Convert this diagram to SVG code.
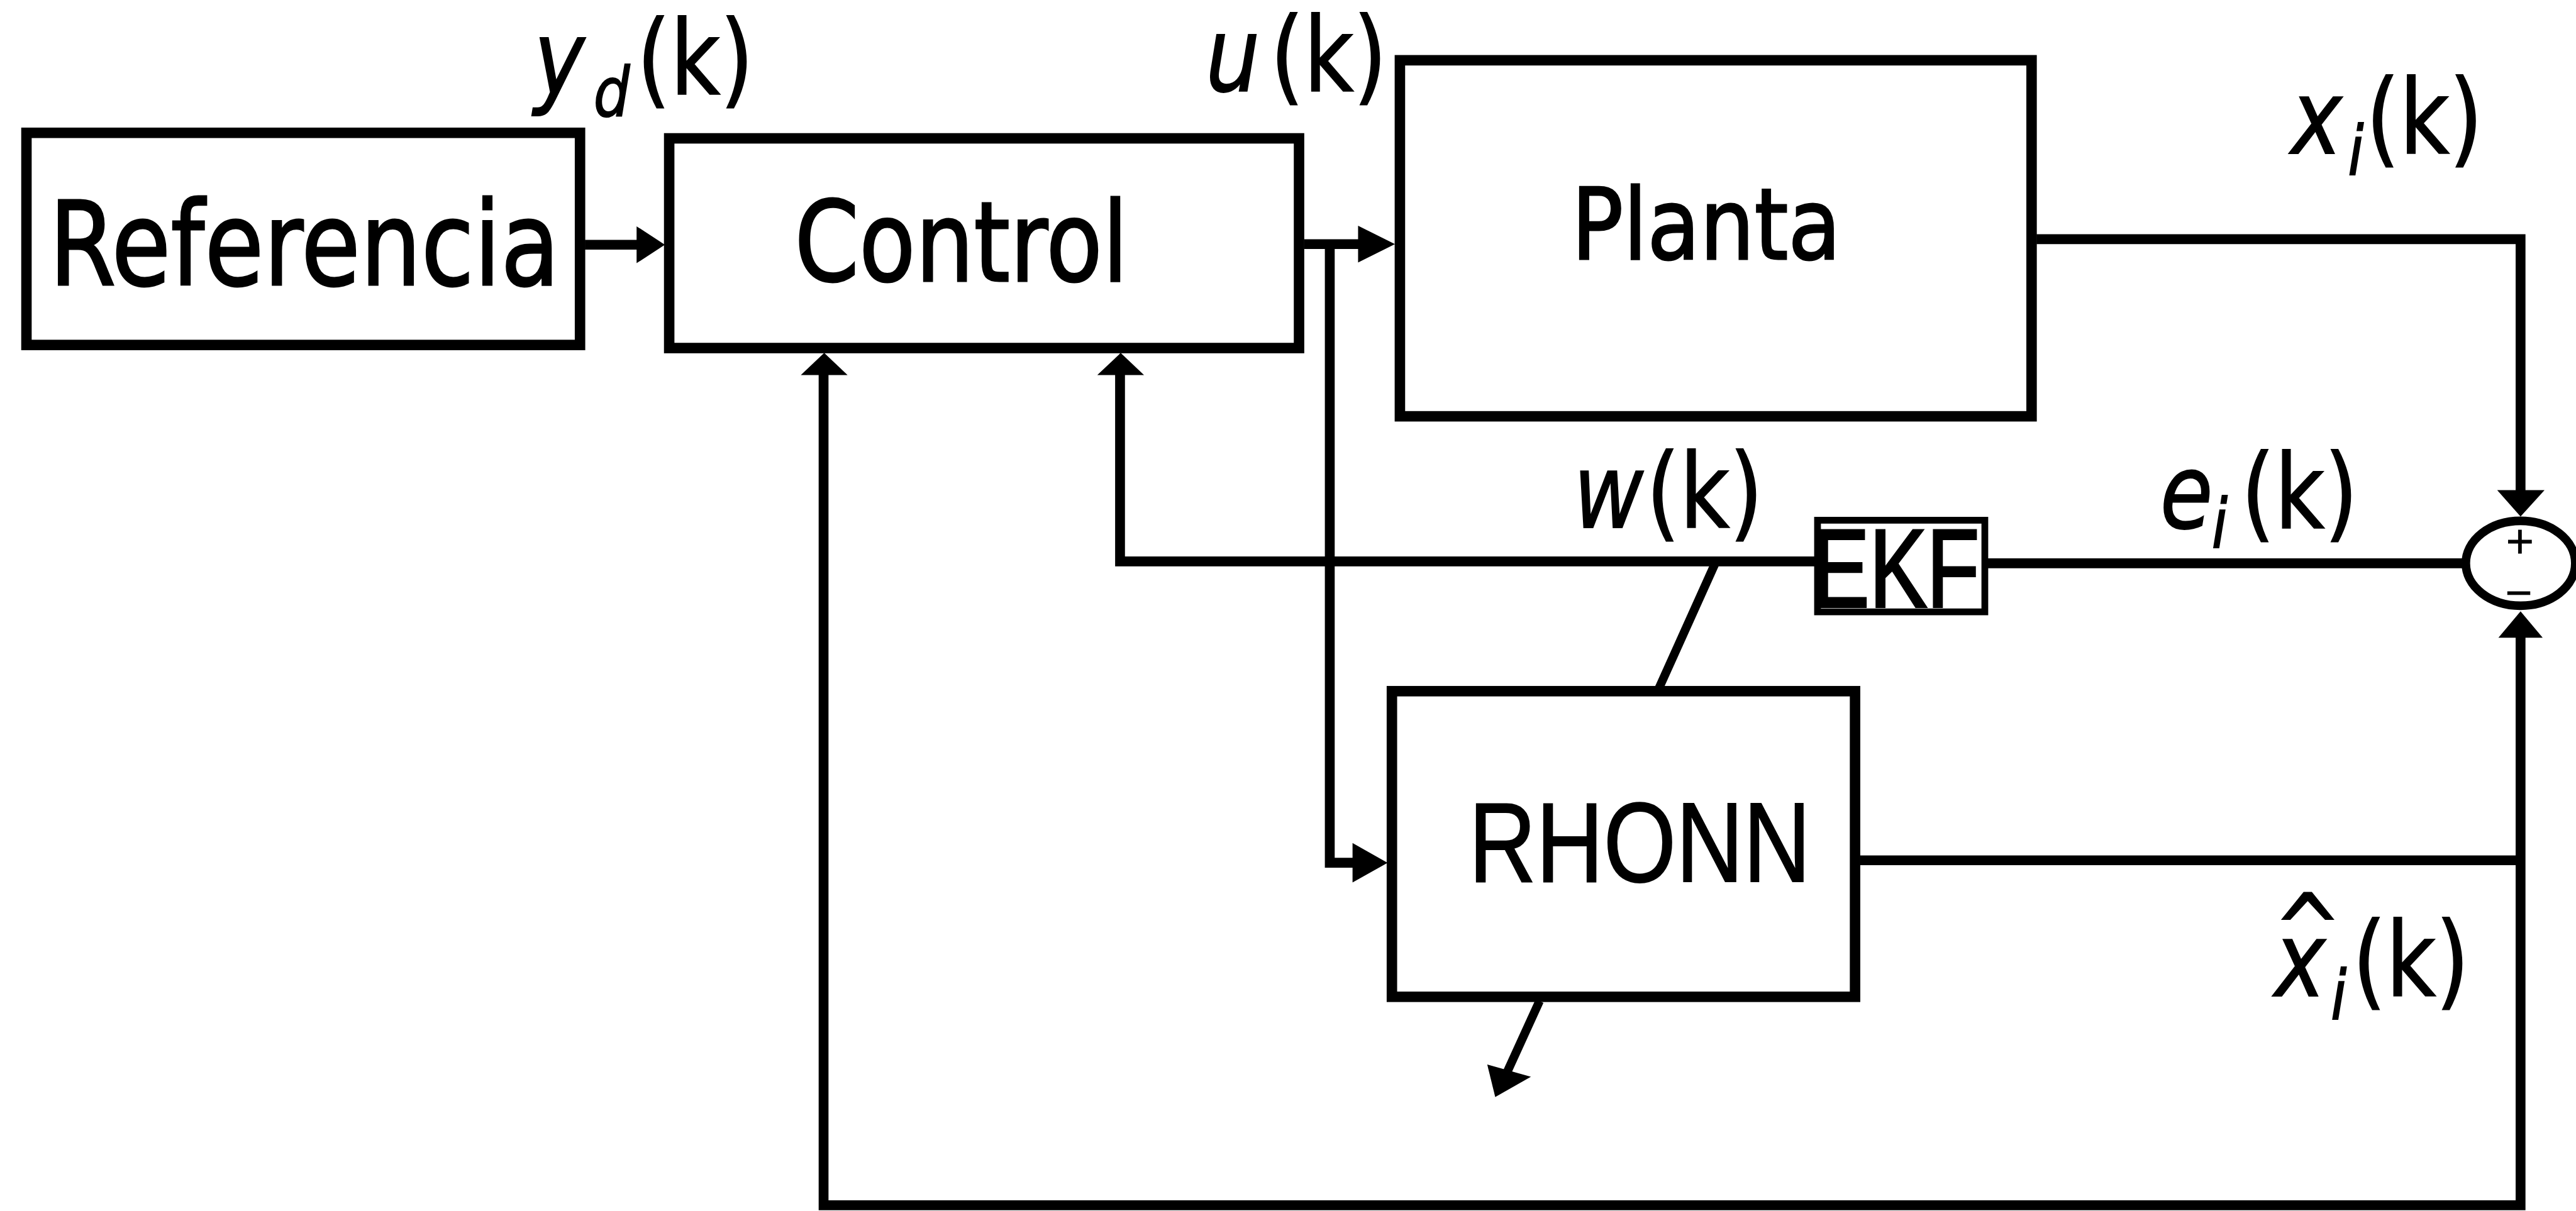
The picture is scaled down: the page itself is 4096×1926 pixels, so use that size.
<svg xmlns="http://www.w3.org/2000/svg" width="4096" height="1926" viewBox="0 0 4096 1926">
<style>
.box{fill:#fff;stroke:#000;stroke-width:17;stroke-linejoin:miter}
.ekf{fill:#fff;stroke:#000;stroke-width:11}
.wire{fill:none;stroke:#000;stroke-width:16;stroke-linejoin:miter;stroke-linecap:butt}
.head{fill:#000;stroke:none}
.t{font-family:"DejaVu Sans",Verdana,sans-serif;fill:#000;stroke:#000;stroke-width:3}
.a{font-family:"Liberation Sans",Arial,sans-serif;fill:#000;stroke:#000;stroke-width:2}
.lbl{font-family:"DejaVu Sans",Verdana,sans-serif;font-size:168px;fill:#000;stroke:#000;stroke-width:2}
.it{font-style:italic}
.sub{font-size:112px}
</style>
<rect width="4096" height="1926" fill="#fff"/>
<g transform="scale(0.978)">
<g id="connectors">
<path class="wire" d="M951,398 H1037"/>
<path class="wire" d="M2120,397 H2210"/>
<path class="wire" d="M2162,397 V1403 H2200"/>
<path class="wire" d="M3311,389 H4098 V798"/>
<path class="wire" d="M3024,1399 H4098"/>
<path class="wire" d="M4098,1036 V1960 H1339 V609"/>
<path class="wire" d="M2950,913 H1821 V609"/>
<path class="wire" d="M3232,916 H4009"/>
<path class="wire" style="stroke-width:14" d="M2790,913 L2695,1124"/>
<path class="wire" style="stroke-width:14" d="M2503,1628 L2451,1742"/>
<polygon class="head" points="1035,368 1081,398 1035,428"/>
<polygon class="head" points="2208,367 2268,397 2208,427"/>
<polygon class="head" points="2199,1371 2256,1403 2199,1435"/>
<polygon class="head" points="4060,797 4137,797 4098,840"/>
<polygon class="head" points="4062,1037 4134,1037 4098,994"/>
<polygon class="head" points="1302,610 1378,610 1340,574"/>
<polygon class="head" points="1784,610 1860,610 1822,574"/>
<polygon class="head" points="2418,1731 2489,1751 2431,1784"/>
</g>
<g id="referencia">
<rect class="box" x="43" y="216" width="900" height="345"/>
<text class="t" x="80" y="463" font-size="190" textLength="830" lengthAdjust="spacingAndGlyphs">Referencia</text>
</g>
<g id="control">
<rect class="box" x="1088" y="225" width="1024" height="341"/>
<text class="t" x="1292" y="457" font-size="180" textLength="542" lengthAdjust="spacingAndGlyphs">Control</text>
</g>
<g id="planta">
<rect class="box" x="2276" y="98" width="1027" height="579"/>
<text class="t" x="2555" y="421" font-size="160" textLength="438" lengthAdjust="spacingAndGlyphs">Planta</text>
</g>
<g id="rhonn">
<rect class="box" x="2263" y="1124" width="753" height="497"/>
<text class="a" x="2388" y="1434" font-size="184" textLength="556" lengthAdjust="spacingAndGlyphs">RHONN</text>
</g>
<g id="ekf">
<rect class="ekf" x="2955" y="846" width="272" height="149"/>
<text class="a" x="2946" y="987" font-size="180" textLength="272" lengthAdjust="spacingAndGlyphs" style="stroke-width:4">EKF</text>
</g>
<g id="sumador">
<ellipse cx="4098" cy="916" rx="89" ry="69" fill="#fff" stroke="#000" stroke-width="14"/>
<text class="t" x="4097" y="900" font-size="60" text-anchor="middle" style="stroke-width:1">+</text>
<text class="t" x="4095" y="983" font-size="58" text-anchor="middle" style="stroke-width:1">−</text>
</g>
<g id="labels">
<text class="lbl" transform="translate(868,153) scale(0.83,1)"><tspan class="it">y</tspan><tspan class="it sub" x="117" y="36">d</tspan><tspan x="202" y="0">(k)</tspan></text>
<text class="lbl" transform="translate(1960,148) scale(0.83,1)"><tspan class="it">u</tspan><tspan x="127" y="0">(k)</tspan></text>
<text class="lbl" transform="translate(2558,858) scale(0.83,1)"><tspan class="it">w</tspan><tspan x="143" y="0">(k)</tspan></text>
<text class="lbl" transform="translate(3512,859) scale(0.83,1)"><tspan class="it">e</tspan><tspan class="it sub" x="101" y="32">i</tspan><tspan x="159" y="0">(k)</tspan></text>
<text class="lbl" transform="translate(3725,249) scale(0.83,1)"><tspan class="it">x</tspan><tspan class="it sub" x="111" y="35">i</tspan><tspan x="147" y="0">(k)</tspan></text>
<text class="lbl" transform="translate(3698,1620) scale(0.83,1)"><tspan class="it" x="-2" y="-52" style="font-style:normal;font-size:160px">^</tspan><tspan class="it" x="0" y="0">x</tspan><tspan class="it sub" x="110" y="37">i</tspan><tspan x="153" y="0">(k)</tspan></text>
</g>
</g>
</svg>
